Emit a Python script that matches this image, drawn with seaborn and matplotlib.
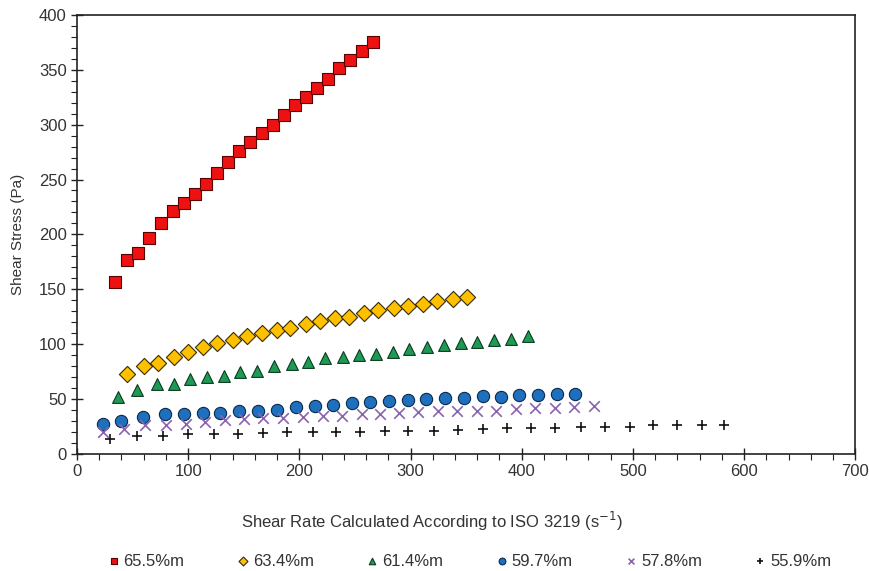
import numpy as np
import pandas as pd
import seaborn as sns
import matplotlib.pyplot as plt
from matplotlib.ticker import MultipleLocator

# Dane
x_655 = [34, 45, 55, 65, 76, 86, 96, 106, 116, 126, 136, 146, 156, 166, 176, 186,
         196, 206, 216, 226, 236, 246, 256, 266]
y_655 = [157, 177, 183, 197, 210, 221, 229, 237, 246, 256, 266, 276, 284, 292, 300, 309,
         318, 325, 333, 342, 352, 359, 367, 375]

x_634 = [45, 60, 73, 87, 100, 113, 126, 140, 153, 166, 180, 192, 206, 219, 232, 245,
         258, 271, 285, 298, 311, 324, 338, 351]
y_634 = [73, 80, 83, 88, 93, 97, 101, 104, 107, 110, 113, 115, 118, 121, 124, 125,
         128, 131, 133, 135, 137, 139, 141, 143]

x_614 = [37, 54, 72, 87, 102, 117, 132, 147, 162, 177, 193, 208, 223, 239, 254, 269,
         284, 299, 315, 330, 345, 360, 375, 390, 406]
y_614 = [52, 58, 64, 64, 68, 70, 71, 75, 76, 80, 82, 84, 87, 88, 90, 91,
         93, 96, 97, 99, 101, 102, 104, 105, 107]

x_597 = [23, 40, 59, 79, 96, 113, 129, 146, 163, 180, 197, 214, 230, 247, 264, 281,
         298, 314, 331, 348, 365, 381, 398, 415, 432, 448]
y_597 = [27, 30, 34, 36, 36, 37, 37, 39, 39, 40, 43, 44, 45, 46, 47, 48,
         49, 50, 51, 51, 53, 52, 54, 54, 55, 55]

x_578 = [23, 42, 61, 80, 98, 115, 133, 150, 167, 185, 203, 221, 238, 256, 273, 290,
         307, 325, 342, 360, 377, 395, 412, 430, 447, 465]
y_578 = [20, 23, 26, 26, 27, 29, 31, 32, 33, 33, 34, 35, 35, 36, 36, 37,
         38, 39, 39, 39, 39, 41, 42, 42, 43, 44]

x_559 = [30, 54, 77, 100, 123, 145, 167, 189, 212, 233, 255, 277, 298, 321, 343, 365,
         387, 408, 430, 453, 475, 497, 518, 540, 562, 582]
y_559 = [14, 16, 16, 18, 18, 18, 19, 20, 20, 20, 20, 21, 21, 21, 22, 23,
         24, 24, 24, 25, 25, 25, 26, 26, 26, 26]

labels = ["65.5%m", "63.4%m", "61.4%m", "59.7%m", "57.8%m", "55.9%m"]
xs = [x_655, x_634, x_614, x_597, x_578, x_559]
ys = [y_655, y_634, y_614, y_597, y_578, y_559]

# styl markerów: (marker, kolor, krawędź, rozmiar)
styles = [
    ("s", "#ee1111", "#5a0000", 72),
    ("D", "#ffc000", "#3a2a00", 68),
    ("^", "#1f9a55", "#0b3a1f", 72),
    ("o", "#1f6fbf", "#0a2a4a", 78),
    ("x", "#8a64b0", None, 58),
    ("+", "#111111", None, 58),
]

sns.set_theme(style="white")
plt.rcParams["font.family"] = ["Liberation Sans", "DejaVu Sans"]

fig = plt.figure(figsize=(8.7, 5.71), dpi=100)
ax = fig.add_axes([0.0885, 0.205, 0.8945, 0.769])

for xv, yv, lab, (m, c, ec, s) in zip(xs, ys, labels, styles):
    df = pd.DataFrame({"x": xv, "y": yv})
    if ec is None:
        sns.scatterplot(data=df, x="x", y="y", ax=ax, marker=m, color=c, s=s,
                        linewidth=1.2, label=lab)
    else:
        sns.scatterplot(data=df, x="x", y="y", ax=ax, marker=m, color=c, s=s,
                        edgecolor=ec, linewidth=0.8, label=lab)

ax.set_xlim(0, 700)
ax.set_ylim(0, 400)
ax.xaxis.set_major_locator(MultipleLocator(100))
ax.xaxis.set_minor_locator(MultipleLocator(20))
ax.yaxis.set_major_locator(MultipleLocator(50))
ax.yaxis.set_minor_locator(MultipleLocator(10))
ax.tick_params(which="major", direction="inout", length=8, width=1, colors="#222222",
               labelsize=12, labelcolor="#333333", bottom=True, left=True)
ax.tick_params(which="minor", direction="out", length=4, width=0.8, colors="#222222",
               bottom=True, left=True)
for sp in ax.spines.values():
    sp.set_color("#222222")
    sp.set_linewidth(1.2)

ax.set_xlabel("")
ax.set_ylabel("Shear Stress (Pa)", fontsize=11, color="#333333", labelpad=10)
fig.text(432 / 870, 1 - 521 / 571, "Shear Rate Calculated According to ISO 3219 (s$^{-1}$)",
         ha="center", va="center", fontsize=12, color="#333333")

leg = ax.legend(loc="center", bbox_to_anchor=(0.504, -0.244), ncol=6, frameon=False,
                markerscale=0.55, handlelength=0.8, handletextpad=0.2,
                columnspacing=3.1, fontsize=12)
for t in leg.get_texts():
    t.set_color("#333333")

fig.savefig("out.png", dpi=100)
